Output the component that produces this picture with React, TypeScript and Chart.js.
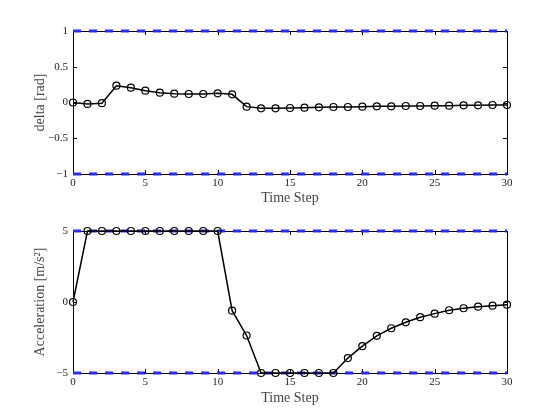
import React, { useEffect, useRef } from "react";
import { Chart, registerables } from "chart.js";

Chart.register(...registerables);

const steps: number[] = Array.from({ length: 31 }, (_, i) => i);
const deltaValues: number[] = [
  0, -0.02, -0.01, 0.235, 0.207, 0.165, 0.138, 0.124, 0.119, 0.119, 0.128, 0.114,
  -0.058, -0.082, -0.082, -0.077, -0.072, -0.068, -0.063, -0.063, -0.058, -0.054,
  -0.054, -0.049, -0.049, -0.044, -0.044, -0.04, -0.04, -0.035, -0.035,
];
const accelValues: number[] = [
  0, 5, 5, 5, 5, 5, 5, 5, 5, 5, 5, -0.61, -2.36, -5, -5, -5, -5, -5, -5, -3.95,
  -3.11, -2.38, -1.85, -1.43, -1.07, -0.82, -0.58, -0.44, -0.33, -0.26, -0.19,
];
const deltaBounds: number[] = [-1, 1];
const accelBounds: number[] = [-5, 5];
const xTicks: number[] = [0, 5, 10, 15, 20, 25, 30];
const deltaTicks: number[] = [-1, -0.5, 0, 0.5, 1];
const accelTicks: number[] = [-5, 0, 5];

const boxPlugin = {
  id: "boxPlugin",
  beforeDatasetsDraw(chart: any) {
    const { ctx, chartArea: a, scales } = chart;
    ctx.save();
    ctx.strokeStyle = "#000";
    ctx.lineWidth = 1;
    ctx.strokeRect(Math.round(a.left) + 0.5, Math.round(a.top) + 0.5, Math.round(a.right - a.left), Math.round(a.bottom - a.top));
    const tl = 4;
    ctx.beginPath();
    scales.x.ticks.forEach((t: any) => {
      const px = Math.round(scales.x.getPixelForValue(t.value)) + 0.5;
      ctx.moveTo(px, a.bottom);
      ctx.lineTo(px, a.bottom - tl);
      ctx.moveTo(px, a.top);
      ctx.lineTo(px, a.top + tl);
    });
    scales.y.ticks.forEach((t: any) => {
      const py = Math.round(scales.y.getPixelForValue(t.value)) + 0.5;
      ctx.moveTo(a.left, py);
      ctx.lineTo(a.left + tl, py);
      ctx.moveTo(a.right, py);
      ctx.lineTo(a.right - tl, py);
    });
    ctx.stroke();
    ctx.restore();
  },
};

function makeConfig(
  values: number[],
  bounds: number[],
  yTicks: number[],
  yTitle: string,
  padTop: number,
  xHeight: number,
  titleBottom: number
): any {
  const tickFont = { family: "'Liberation Serif', 'DejaVu Serif', serif", size: 11 };
  const titleFont = { family: "'Liberation Serif', 'DejaVu Serif', serif", size: 14 };
  const boundSets = bounds.map((b) => ({
    data: [
      { x: steps[0], y: b },
      { x: steps[steps.length - 1], y: b },
    ],
    borderColor: "#2a2af2",
    borderWidth: 3,
    borderDash: [8, 8],
    borderCapStyle: "butt",
    pointRadius: 0,
    clip: false,
  }));
  return {
    type: "line",
    data: {
      datasets: [
        {
          data: steps.map((s, i) => ({ x: s, y: values[i] })),
          borderColor: "#000",
          borderWidth: 1.5,
          pointRadius: 3.5,
          pointBorderWidth: 1.2,
          pointBorderColor: "#000",
          pointBackgroundColor: "rgba(0,0,0,0)",
          clip: false,
        },
        ...boundSets,
      ],
    },
    options: {
      animation: false,
      responsive: false,
      maintainAspectRatio: false,
      layout: { padding: { top: padTop, right: 53, left: 0, bottom: 0 } },
      plugins: { legend: { display: false }, tooltip: { enabled: false } },
      scales: {
        x: {
          type: "linear",
          min: 0,
          max: 30,
          afterBuildTicks: (s: any) => {
            s.ticks = xTicks.map((v) => ({ value: v }));
          },
          afterFit: (s: any) => {
            s.height = xHeight;
          },
          grid: { display: false, drawTicks: false },
          border: { display: false },
          ticks: { color: "#222", font: tickFont, padding: 3, maxRotation: 0 },
          title: {
            display: true,
            text: "Time Step",
            color: "#444",
            font: titleFont,
            padding: { top: 0, bottom: titleBottom },
          },
        },
        y: {
          type: "linear",
          min: yTicks[0],
          max: yTicks[yTicks.length - 1],
          afterBuildTicks: (s: any) => {
            s.ticks = yTicks.map((v) => ({ value: v }));
          },
          afterFit: (s: any) => {
            s.width = 73;
          },
          grid: { display: false, drawTicks: false },
          border: { display: false },
          ticks: {
            color: "#222",
            font: tickFont,
            padding: 5,
            callback: (v: any) => String(v).replace("-", "\u2212"),
          },
          title: {
            display: true,
            text: yTitle,
            color: "#444",
            font: titleFont,
            padding: { top: 32, bottom: 0 },
          },
        },
      },
    },
    plugins: [boxPlugin],
  };
}

function Panel(props: {
  values: number[];
  bounds: number[];
  yTicks: number[];
  yTitle: string;
  top: number;
  padTop: number;
  xHeight: number;
  titleBottom: number;
}) {
  const ref = useRef<HTMLCanvasElement | null>(null);
  useEffect(() => {
    if (!ref.current) return;
    const chart = new Chart(
      ref.current,
      makeConfig(props.values, props.bounds, props.yTicks, props.yTitle, props.padTop, props.xHeight, props.titleBottom)
    );
    return () => chart.destroy();
  }, []);
  return (
    <canvas
      ref={ref}
      width={560}
      height={210}
      style={{ position: "absolute", left: 0, top: props.top, width: 560, height: 210 }}
    />
  );
}

export default function App() {
  return (
    <div style={{ position: "fixed", left: 0, top: 0, width: 560, height: 420, background: "#fff" }}>
      <Panel
        values={deltaValues}
        bounds={deltaBounds}
        yTicks={deltaTicks}
        yTitle="delta [rad]"
        top={0}
        padTop={31}
        xHeight={36}
        titleBottom={3}
      />
      <Panel
        values={accelValues}
        bounds={accelBounds}
        yTicks={accelTicks}
        yTitle="Acceleration [m/s²]"
        top={210}
        padTop={21}
        xHeight={47}
        titleBottom={13}
      />
    </div>
  );
}
